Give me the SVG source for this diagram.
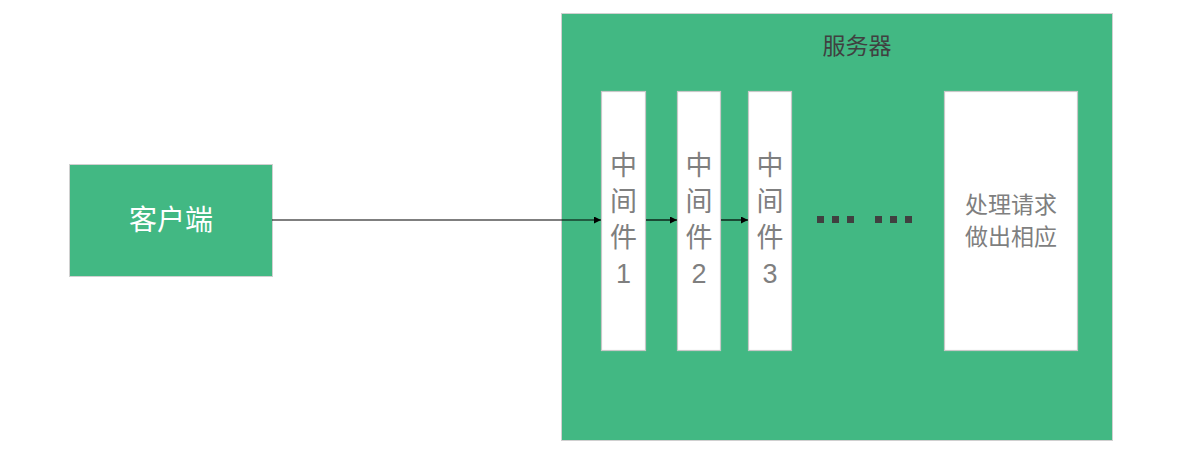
<svg xmlns="http://www.w3.org/2000/svg" width="1188" height="460" viewBox="0 0 1188 460">
<style>
.green{fill:#42b883;stroke:#d0d0d0;stroke-width:1}
.white{fill:#ffffff;stroke:#c8c8c8;stroke-width:1.2}
.t{font-family:"Liberation Sans","Noto Sans CJK SC",sans-serif;text-anchor:middle}
.mw{font-size:27px;fill:#7f7f7f}
.conn{stroke:#000;stroke-width:1.2;fill:none;marker-end:url(#ah)}
.dot{fill:#404040}
</style>
<defs>
<marker id="ah" viewBox="0 0 10 10" refX="10" refY="5" markerWidth="8" markerHeight="7" markerUnits="userSpaceOnUse" orient="auto">
<path d="M0,0 L10,5 L0,10 z" fill="#000"/>
</marker>
</defs>
<rect width="1188" height="460" fill="#ffffff"/>
<g id="server">
<rect class="green" x="561.5" y="13.5" width="551" height="427"/>
<text class="t" x="857" y="54" font-size="23" fill="#404040">服务器</text>
</g>
<g id="client">
<rect class="green" x="69.5" y="164.5" width="203" height="112"/>
<text class="t" x="171" y="230" font-size="28" fill="#ffffff">客户端</text>
</g>
<g id="mw1">
<rect class="white" x="601.5" y="91.5" width="44" height="259"/>
<text class="t mw" x="623.5" y="175">中</text>
<text class="t mw" x="623.5" y="211">间</text>
<text class="t mw" x="623.5" y="247">件</text>
<text class="t mw" x="623.5" y="283">1</text>
</g>
<g id="mw2">
<rect class="white" x="677.5" y="91.5" width="43" height="259"/>
<text class="t mw" x="699" y="175">中</text>
<text class="t mw" x="699" y="211">间</text>
<text class="t mw" x="699" y="247">件</text>
<text class="t mw" x="699" y="283">2</text>
</g>
<g id="mw3">
<rect class="white" x="748.5" y="91.5" width="43" height="259"/>
<text class="t mw" x="770" y="175">中</text>
<text class="t mw" x="770" y="211">间</text>
<text class="t mw" x="770" y="247">件</text>
<text class="t mw" x="770" y="283">3</text>
</g>
<g id="dots">
<rect class="dot" x="817" y="216" width="7" height="7"/>
<rect class="dot" x="832" y="216" width="7" height="7"/>
<rect class="dot" x="847" y="216" width="7" height="7"/>
<rect class="dot" x="875" y="216" width="7" height="7"/>
<rect class="dot" x="890" y="216" width="7" height="7"/>
<rect class="dot" x="905" y="216" width="7" height="7"/>
</g>
<g id="handler">
<rect class="white" x="944.5" y="91.5" width="133" height="259"/>
<text class="t" x="1011" y="213" font-size="23" fill="#7f7f7f">处理请求</text>
<text class="t" x="1011" y="245" font-size="23" fill="#7f7f7f">做出相应</text>
</g>
<g id="connectors">
<line class="conn" x1="272" y1="220" x2="601" y2="220"/>
<line class="conn" x1="646" y1="220" x2="677" y2="220"/>
<line class="conn" x1="721" y1="220" x2="748" y2="220"/>
</g>
</svg>
